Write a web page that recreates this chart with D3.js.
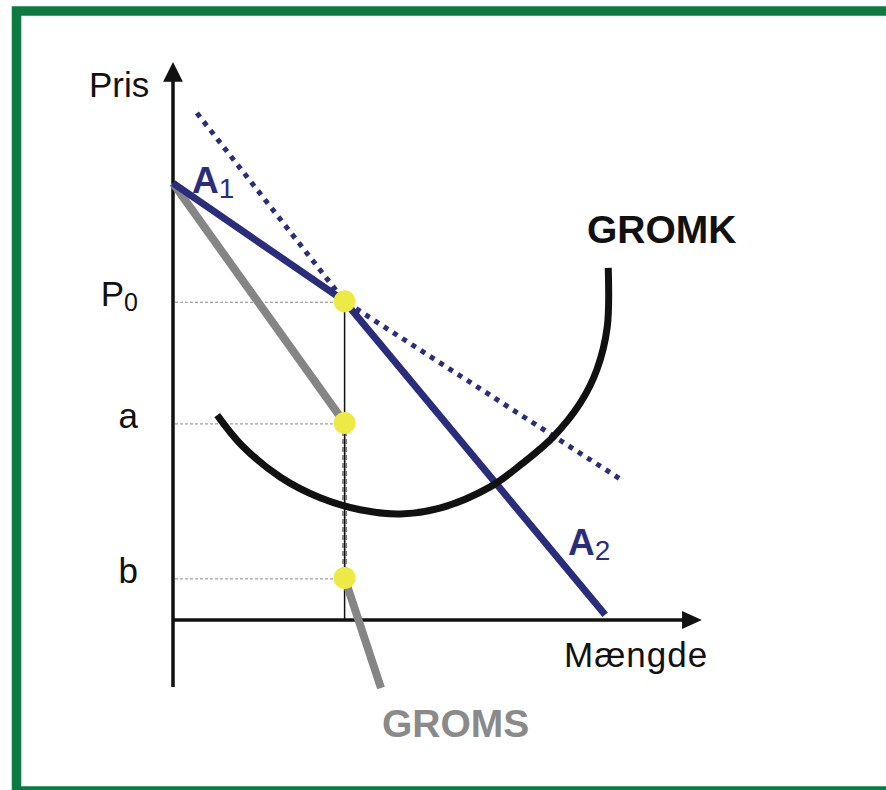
<!DOCTYPE html>
<html>
<head>
<meta charset="utf-8">
<script src="https://cdn.jsdelivr.net/npm/d3@7"></script>
<style>
  body { margin: 0; background: #fff; }
  text { font-family: "Liberation Sans", Arial, sans-serif; }
</style>
</head>
<body>
<svg id="chart"></svg>
<script>
// quantity / price
var kinkQ = 33;
var priceP0 = 61.3, priceA = 37.9, priceB = 8.1;

var demandA = [[0, 84], [kinkQ, priceP0], [83.1, 1]];          // A1 -> A2 (kinked demand)
var demandExt = [[4.6, 97.5], [kinkQ, priceP0], [86, 27.1]];   // dotted extensions
var gromsTop = [[0, 84], [kinkQ, priceA]];
var gromsGap = [[kinkQ, priceA], [kinkQ, priceB]];
var gromsBottom = [[kinkQ, priceB], [40, -13.1]];
var gromk = [[8.5, 39.4], [13.3, 33.5], [20.6, 27.5], [28.3, 23.5], [36.0, 21.2],
  [43.7, 20.4], [51.3, 21.5], [61.0, 25.6], [67.3, 30.2], [73.1, 35.2],
  [78.3, 41.7], [81.5, 48.1], [83.5, 56.3], [83.7, 67.7]];
var dotPrices = [priceP0, priceA, priceB];
var tickLabels = [
  { text: "P", sub: "0", p: priceP0 },
  { text: "a", sub: null, p: priceA },
  { text: "b", sub: null, p: priceB }
];

var svgWidth = 886, svgHeight = 790;
var navy = "#2a2d7c", gray = "#858585";

var svg = d3.select("#chart")
  .attr("width", svgWidth)
  .attr("height", svgHeight);

var x = d3.scaleLinear().domain([0, 100]).range([173, 693]);
var y = d3.scaleLinear().domain([0, 100]).range([620, 100]);

var line = d3.line()
  .x(function(d) { return x(d[0]) })
  .y(function(d) { return y(d[1]) });

// green frame
svg.append("rect")
  .attr("x", 16.5).attr("y", 11)
  .attr("width", 900).attr("height", 780)
  .attr("fill", "none")
  .attr("stroke", "#0d7a43")
  .attr("stroke-width", 9.5);

// thin guides from the price axis to the dots
svg.selectAll(".guide")
  .data(dotPrices)
  .enter().append("line")
  .attr("class", "guide")
  .attr("x1", x(0) + 2).attr("x2", x(kinkQ))
  .attr("y1", function(d) { return y(d) + 1 })
  .attr("y2", function(d) { return y(d) + 1 })
  .attr("stroke", "#888")
  .attr("stroke-width", 1)
  .attr("stroke-dasharray", "3,2");

// vertical from the kink down to the quantity axis
svg.append("line")
  .attr("x1", x(kinkQ)).attr("x2", x(kinkQ))
  .attr("y1", y(priceP0)).attr("y2", y(0))
  .attr("stroke", "#111")
  .attr("stroke-width", 1.5);

// axes
svg.append("path")
  .attr("d", line([[0, -12.9], [0, 104]]))
  .attr("stroke", "#111").attr("stroke-width", 3.5).attr("fill", "none");
svg.append("path")
  .attr("d", line([[-1.9, 103.5], [0, 107.3], [1.9, 103.5]]) + "Z")
  .attr("fill", "#111");
svg.append("path")
  .attr("d", line([[0, 0], [98.5, 0]]))
  .attr("stroke", "#111").attr("stroke-width", 3.5).attr("fill", "none");
svg.append("path")
  .attr("d", line([[97.9, 1.75], [101.7, 0], [97.9, -1.75]]) + "Z")
  .attr("fill", "#111");

// GROMS (marginal revenue)
[gromsTop, gromsBottom].forEach(function(seg) {
  svg.append("path")
    .attr("d", line(seg))
    .attr("fill", "none")
    .attr("stroke", gray)
    .attr("stroke-width", 8);
});
svg.append("path")
  .attr("d", line(gromsGap))
  .attr("fill", "none")
  .attr("stroke", gray)
  .attr("stroke-width", 5)
  .attr("stroke-dasharray", "5,3");
svg.append("line")
  .attr("x1", x(kinkQ)).attr("x2", x(kinkQ))
  .attr("y1", y(priceA)).attr("y2", y(priceB))
  .attr("stroke", "#111")
  .attr("stroke-width", 1.2);

// demand
svg.append("path")
  .attr("d", line(demandA))
  .attr("fill", "none")
  .attr("stroke", navy)
  .attr("stroke-width", 7)
  .attr("stroke-linejoin", "round");

svg.append("path")
  .attr("d", line(demandExt))
  .attr("fill", "none")
  .attr("stroke", navy)
  .attr("stroke-width", 5)
  .attr("stroke-dasharray", "5,6");

// GROMK
var smooth = d3.line()
  .x(function(d) { return x(d[0]) })
  .y(function(d) { return y(d[1]) })
  .curve(d3.curveCatmullRom.alpha(0.5));
svg.append("path")
  .attr("d", smooth(gromk))
  .attr("fill", "none")
  .attr("stroke", "#111")
  .attr("stroke-width", 7);

// yellow dots
svg.selectAll(".dot")
  .data(dotPrices)
  .enter().append("circle")
  .attr("class", "dot")
  .attr("cx", x(kinkQ))
  .attr("cy", function(d) { return y(d) })
  .attr("r", 11)
  .attr("fill", "#eeea45");

// price labels
var tl = svg.selectAll(".tick-label")
  .data(tickLabels)
  .enter().append("text")
  .attr("class", "tick-label")
  .attr("x", 138)
  .attr("y", function(d) { return y(d.p) + 5 })
  .attr("text-anchor", "end")
  .style("font-size", "35px")
  .attr("fill", "#111");
tl.append("tspan").text(function(d) { return d.text });
tl.filter(function(d) { return d.sub }).append("tspan")
  .attr("dy", 5)
  .style("font-size", "25px")
  .text(function(d) { return d.sub });

svg.append("text")
  .attr("x", 89).attr("y", 97)
  .style("font-size", "35px")
  .attr("fill", "#111")
  .text("Pris");

svg.append("text")
  .attr("x", 564).attr("y", 667)
  .style("font-size", "35px")
  .style("letter-spacing", "1px")
  .attr("fill", "#111")
  .text("Mængde");

svg.append("text")
  .attr("x", 587).attr("y", 243)
  .style("font-size", "39px")
  .style("font-weight", "bold")
  .attr("fill", "#111")
  .text("GROMK");

svg.append("text")
  .attr("x", 382).attr("y", 737)
  .style("font-size", "39px")
  .style("font-weight", "bold")
  .attr("fill", "#8a8a8a")
  .text("GROMS");

// A1 / A2
function demandLabel(px, py, sub) {
  var t = svg.append("text")
    .attr("x", px).attr("y", py)
    .attr("fill", navy);
  t.append("tspan")
    .style("font-size", "37px")
    .style("font-weight", "bold")
    .text("A");
  t.append("tspan")
    .attr("dy", 5)
    .style("font-size", "28px")
    .text(sub);
}
demandLabel(192, 193, "1");
demandLabel(568, 555, "2");
</script>
</body>
</html>
